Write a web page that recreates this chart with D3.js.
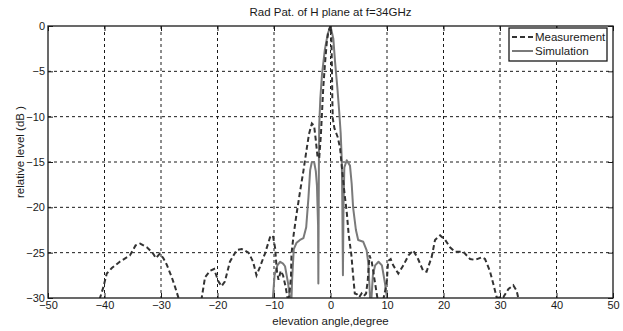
<!DOCTYPE html>
<html>
<head>
<meta charset="utf-8">
<script src="https://cdn.jsdelivr.net/npm/d3@7"></script>
<style>
  html, body { margin: 0; padding: 0; background: #fff; }
  svg { display: block; font-family: "Liberation Sans", Arial, sans-serif; }
</style>
</head>
<body>
<svg id="chart" width="623" height="331"></svg>
<script>
// Measured H-plane pattern (angle in degrees, relative level in dB)
const measAngle = [-41.2, -40.8, -40.2, -39.6, -38.7, -37.3, -35.5, -34.5, -33.7, -32.5,
  -31.5, -30.9, -30.2, -29.6, -29.0, -28.1, -27.5, -26.9, -26.5, -23.2,
  -22.8, -22.2, -21.3, -20.6, -19.9, -19.3, -18.7, -17.8, -16.6, -15.7,
  -14.5, -13.7, -13.1, -12.5, -11.6, -10.7, -10.2, -9.8, -9.5, -9.2,
  -8.8, -8.4, -8.0, -7.6, -7.3, -7.0, -6.9, -6.5, -6.0, -5.4,
  -4.8, -4.2, -3.8, -3.3, -2.9, -2.6, -2.3, -2.0, -1.7, -1.5,
  -1.27, -0.97, -0.67, -0.38, 0, 0.15, 0.25, 0.32, 0.4, 0.7,
  1.0, 1.3, 1.7, 2.0, 2.4, 2.9, 3.2, 3.7, 4.0, 4.3,
  4.7, 5.1, 5.5, 5.9, 6.3, 6.6, 6.9, 7.3, 7.8, 8.3,
  8.6, 9.1, 9.4, 9.94, 10.2, 10.65, 11.1, 12.0, 12.9, 13.8,
  14.65, 15.5, 16.4, 17.0, 17.9, 18.5, 19.4, 20.3, 21.15, 22.0,
  23.5, 24.7, 25.6, 26.8, 27.35, 28.2, 28.8, 29.4, 30.0, 30.6,
  31.5, 32.35, 32.95, 33.2, 33.5];
const measLevel = [-31, -30, -28.8, -27.3, -26.7, -26.0, -25.3, -24.2, -24.0, -24.4,
  -25.0, -25.6, -25.1, -25.6, -26.3, -27.7, -28.8, -30, -31, -31,
  -30, -27.7, -27.0, -26.8, -28.1, -28.7, -28.2, -26.0, -24.7, -24.6,
  -25.0, -26.0, -27.5, -26.6, -25.1, -23.3, -23.1, -24.5, -27.0, -28.0,
  -27.0, -27.5, -28.6, -30, -29.8, -27.7, -25.1, -22.9, -20.7, -18.3,
  -16.0, -13.5, -11.9, -10.75, -11.0, -12.6, -14.4, -14.6, -12.0, -9.5,
  -6.7, -4.1, -1.9, -0.6, 0, -1.2, -4.5, -8.0, -10.2, -11.3,
  -11.8, -12.3, -13.5, -15.5, -18.0, -20.7, -22.9, -25.3, -27.5, -29.5,
  -29.6, -29.9, -29.5, -29.8, -29.5, -28.0, -25.3, -26.0, -28.0, -30,
  -31, -31, -30, -28.4, -25.9, -25.7, -26.4, -27.3, -26.4, -25.3,
  -24.75, -25.7, -27.0, -27.1, -25.5, -23.6, -23.1, -23.6, -24.4, -24.9,
  -24.9, -25.7, -25.8, -25.5, -25.7, -27.0, -28.4, -29.9, -30, -29.9,
  -29.0, -28.6, -29.2, -29.9, -31];

// Simulated H-plane pattern
const simAngle = [-10.5, -10.2, -9.9, -9.4, -8.9, -8.4, -8.05, -7.5, -7.2, -7.05,
  -6.95, -6.8, -6.5, -6.0, -5.4, -4.8, -4.3, -3.9, -3.6, -3.3,
  -2.9, -2.6, -2.4, -2.2, -2.15, -2.1, -2.05, -2.0, -1.8, -1.5,
  -1.0, -0.5, 0, 0.5, 0.8, 1.2, 1.56, 1.8, 2.0, 2.1,
  2.2, 2.3, 2.45, 2.87, 3.45, 3.75, 4.0, 4.5, 4.9, 5.8,
  6.4, 6.7, 7.0, 7.15, 7.25, 7.5, 7.9, 8.5, 9.1, 9.65,
  10.0, 10.3];
const simLevel = [-31, -30, -27.5, -26.4, -26.0, -26.2, -26.5, -28.4, -30, -31,
  -31, -28, -24.6, -23.9, -23.6, -23.4, -22.2, -18.9, -15.9, -15.0,
  -15.0, -16.0, -17.6, -22, -28.4, -22, -14.5, -11.0, -8.0, -5.3,
  -2.6, -0.9, 0, -1.4, -3.9, -6.7, -9.6, -11.8, -14.8, -20,
  -27.5, -20, -15.6, -14.8, -15.4, -17.4, -20.0, -22.5, -23.6, -23.8,
  -24.75, -26.2, -30, -31, -30, -27.5, -26.4, -26.0, -26.4, -28.4,
  -30, -31];

const xTicks = [-50, -40, -30, -20, -10, 0, 10, 20, 30, 40, 50];
const yTicks = [0, -5, -10, -15, -20, -25, -30];
const seriesNames = ["Measurement", "Simulation"];

const svg = d3.select("#chart");
const m = { left: 48, right: 613, top: 26, bottom: 298 };

const x = d3.scaleLinear().domain([-50, 50]).range([m.left, m.right]);
const y = d3.scaleLinear().domain([-30, 0]).range([m.bottom, m.top]);

const ink = "#1a1a1a";
const tickFont = 11;
const labelFont = 11.5;

// Clip region for the plotted curves
svg.append("defs").append("clipPath").attr("id", "plotClip")
  .append("rect")
  .attr("x", m.left).attr("y", m.top)
  .attr("width", m.right - m.left).attr("height", m.bottom - m.top);

// Dashed grid
const grid = svg.append("g");
grid.selectAll("line.gx").data(xTicks.slice(1, -1)).join("line")
  .attr("x1", d => x(d)).attr("x2", d => x(d))
  .attr("y1", m.top).attr("y2", m.bottom)
  .attr("stroke", ink).attr("stroke-width", 1).attr("stroke-dasharray", "3,3");
grid.selectAll("line.gy").data(yTicks.slice(1, -1)).join("line")
  .attr("x1", m.left).attr("x2", m.right)
  .attr("y1", d => y(d)).attr("y2", d => y(d))
  .attr("stroke", ink).attr("stroke-width", 1).attr("stroke-dasharray", "3,3");

// Curves
const line = d3.line().x(d => x(d[0])).y(d => y(d[1]));
const meas = measAngle.map((a, i) => [a, measLevel[i]]);
const sim = simAngle.map((a, i) => [a, simLevel[i]]);

const curves = svg.append("g").attr("clip-path", "url(#plotClip)");
curves.append("path").datum(sim)
  .attr("d", line).attr("fill", "none")
  .attr("stroke", "#7a7a7a").attr("stroke-width", 2).attr("stroke-linejoin", "round");
curves.append("path").datum(meas)
  .attr("d", line).attr("fill", "none")
  .attr("stroke", "#333").attr("stroke-width", 2).attr("stroke-dasharray", "5,3");

// Axes: ticks point inward on all four sides
const tickLen = 5;
const axB = svg.append("g").attr("transform", `translate(0,${m.bottom})`)
  .call(d3.axisBottom(x).tickValues(xTicks).tickSize(-tickLen).tickPadding(3).tickFormat(d3.format("d")));
const axT = svg.append("g").attr("transform", `translate(0,${m.top})`)
  .call(d3.axisTop(x).tickValues(xTicks).tickSize(-tickLen).tickFormat(""));
const axL = svg.append("g").attr("transform", `translate(${m.left},0)`)
  .call(d3.axisLeft(y).tickValues(yTicks).tickSize(-tickLen).tickPadding(3).tickFormat(d3.format("d")));
const axR = svg.append("g").attr("transform", `translate(${m.right},0)`)
  .call(d3.axisRight(y).tickValues(yTicks).tickSize(-tickLen).tickFormat(""));

[axB, axT, axL, axR].forEach(a => {
  a.select(".domain").remove();
  a.selectAll(".tick line").attr("stroke", ink).attr("stroke-width", 1);
  a.selectAll("text").attr("fill", ink).attr("font-size", tickFont)
    .attr("font-family", "Liberation Sans, Arial, sans-serif");
});
axB.selectAll("text").attr("dy", "0.71em");

// Box
svg.append("rect")
  .attr("x", m.left).attr("y", m.top)
  .attr("width", m.right - m.left).attr("height", m.bottom - m.top)
  .attr("fill", "none").attr("stroke", ink).attr("stroke-width", 1.3);

// Title and axis labels
svg.append("text").attr("x", (m.left + m.right) / 2).attr("y", 16)
  .attr("text-anchor", "middle").attr("font-size", labelFont).attr("fill", ink)
  .text("Rad Pat. of H plane at f=34GHz");
svg.append("text").attr("x", (m.left + m.right) / 2).attr("y", 325)
  .attr("text-anchor", "middle").attr("font-size", labelFont).attr("fill", ink)
  .text("elevation angle,degree");
svg.append("text")
  .attr("transform", "translate(24,152) rotate(-90)")
  .attr("text-anchor", "middle").attr("font-size", labelFont).attr("fill", ink)
  .text("relative level (dB )");

// Legend
const lg = svg.append("g");
lg.append("rect").attr("x", 509).attr("y", 28).attr("width", 98).attr("height", 33)
  .attr("fill", "#fff").attr("stroke", ink).attr("stroke-width", 1.3);
const legendStyles = [
  { color: "#333", dash: "5,3" },
  { color: "#7a7a7a", dash: null }
];
seriesNames.forEach((name, i) => {
  const ly = 37 + i * 14;
  lg.append("line").attr("x1", 512).attr("x2", 533).attr("y1", ly).attr("y2", ly)
    .attr("stroke", legendStyles[i].color).attr("stroke-width", 2)
    .attr("stroke-dasharray", legendStyles[i].dash);
  lg.append("text").attr("x", 535).attr("y", ly).attr("dy", "0.35em")
    .attr("font-size", labelFont).attr("fill", ink).text(name);
});
</script>
</body>
</html>
